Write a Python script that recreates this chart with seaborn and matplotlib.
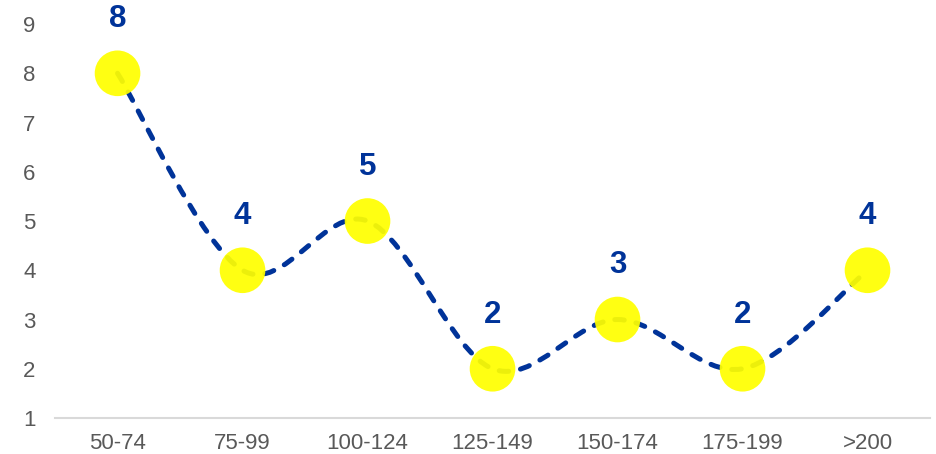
import numpy as np
import matplotlib
matplotlib.use("Agg")
import matplotlib.pyplot as plt
from matplotlib.path import Path
from matplotlib.patches import PathPatch
import seaborn as sns
import pandas as pd

# data
categories = ['50-74', '75-99', '100-124', '125-149', '150-174', '175-199', '>200']
counts = [8, 4, 5, 2, 3, 2, 4]

sns.set_style("white")
plt.rcParams['font.family'] = ['Liberation Sans', 'DejaVu Sans']

line_color = '#003399'
tick_color = '#595959'

df = pd.DataFrame({'x': np.arange(len(categories)), 'count': counts})

fig = plt.figure(figsize=(9.36, 4.54), dpi=100)
ax = fig.add_axes([0.0588, 0.0793, 0.9348, 0.8677])

# smoothed dashed line (Catmull-Rom style bezier like Excel's smoothed line)
pts = df[['x', 'count']].to_numpy(dtype=float)
verts = [tuple(pts[0])]
codes = [Path.MOVETO]
n = len(pts)
for i in range(n - 1):
    p0 = pts[i - 1] if i > 0 else pts[i]
    p1 = pts[i]
    p2 = pts[i + 1]
    p3 = pts[i + 2] if i + 2 < n else pts[i + 1]
    c1 = p1 + (p2 - p0) / 6.0
    c2 = p2 - (p3 - p1) / 6.0
    verts += [tuple(c1), tuple(c2), tuple(p2)]
    codes += [Path.CURVE4] * 3
patch = PathPatch(Path(verts, codes), facecolor='none', edgecolor=line_color,
                  lw=3.6, linestyle=(0, (1.9, 2.4)), capstyle='round', zorder=2)
ax.add_patch(patch)

# markers
sns.scatterplot(data=df, x='x', y='count', s=1080, color='#ffff00', alpha=0.93,
                edgecolor='none', linewidth=0, zorder=3, ax=ax, legend=False)

# value labels
for xi, yi in zip(df['x'], df['count']):
    ax.annotate(str(yi), (xi, yi), xytext=(0, 39), textcoords='offset points',
                ha='center', va='center', fontsize=22.5, fontweight='bold',
                color=line_color)

ax.set_xlim(-0.5, len(categories) - 0.5)
ax.set_ylim(1, 9)
ax.set_xticks(df['x'])
ax.set_xticklabels(categories)
ax.set_yticks(range(1, 10))
ax.set_xlabel('')
ax.set_ylabel('')
ax.tick_params(axis='both', length=0, labelsize=16, colors=tick_color)
ax.tick_params(axis='x', pad=11)
ax.tick_params(axis='y', pad=14)

for side in ['top', 'right', 'left']:
    ax.spines[side].set_visible(False)
ax.spines['bottom'].set_color('#d9d9d9')
ax.spines['bottom'].set_linewidth(1.5)
ax.grid(False)

fig.savefig('out.png', dpi=100)
